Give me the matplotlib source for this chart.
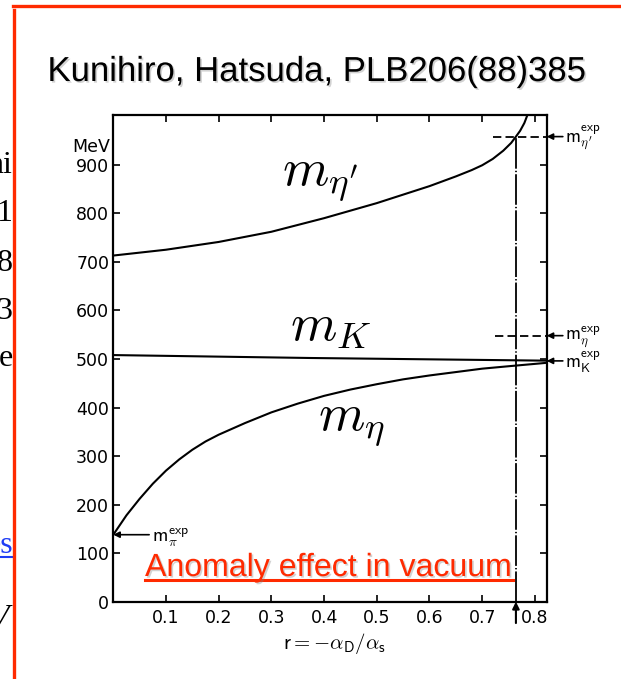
import matplotlib
matplotlib.use("Agg")
import matplotlib.pyplot as plt
import matplotlib.patheffects as pe
from matplotlib.lines import Line2D

# ---- data -------------------------------------------------------------
r_eta_prime = [0.0, 0.1, 0.2, 0.3, 0.4, 0.5, 0.6, 0.65, 0.68, 0.7, 0.72, 0.74,
               0.755, 0.764, 0.772, 0.78, 0.786]
m_eta_prime = [713, 725, 741, 762, 790, 821, 856, 876, 889, 899, 912, 929,
               945, 958, 970, 986, 1003]

r_kaon = [0.0, 0.373, 0.822]
m_kaon = [508, 502, 496.5]

r_eta = [0.0, 0.025, 0.05, 0.075, 0.1, 0.125, 0.15, 0.175, 0.2, 0.25, 0.3, 0.35,
         0.4, 0.45, 0.5, 0.55, 0.6, 0.65, 0.7, 0.75, 0.822]
m_eta = [138, 178, 212, 243, 270, 293, 313, 330, 344, 368, 390, 408,
         424, 437, 448, 458, 466, 473, 480, 485, 492]

m_pi_exp = 138
m_eta_exp = 548
m_eta_prime_exp = 958
m_kaon_exp = 496
r_best = 0.764

x_ticks = [0.1, 0.2, 0.3, 0.4, 0.5, 0.6, 0.7, 0.8]
x_tick_labels = ["0.1", "0.2", "0.3", "0.4", "0.5", "0.6", "0.7", "0.8"]
y_ticks = [0, 100, 200, 300, 400, 500, 600, 700, 800, 900]
y_tick_labels = [str(v) for v in y_ticks]

title_text = "Kunihiro, Hatsuda, PLB206(88)385"
note_text = "Anomaly effect in vacuum"

# ---- figure -----------------------------------------------------------
W, H = 621, 679
plt.rcParams["mathtext.fontset"] = "cm"
plt.rcParams["lines.scale_dashes"] = False
fig = plt.figure(figsize=(W / 100, H / 100), dpi=100)
fig.patch.set_facecolor("white")


def fx(px):
    return px / W


def fy(py):
    return 1 - py / H


RED = "#ff2a00"

# slide frame
fig.add_artist(Line2D([fx(13), fx(621)], [fy(5.5), fy(5.5)], color=RED, lw=2.4))
fig.add_artist(Line2D([fx(14), fx(14)], [fy(10), fy(679)], color=RED, lw=2.4))

# clipped text from the neighbouring slide column
frag = fig.add_axes([0, 0, fx(12.5), 1])
frag.set_xlim(0, 12.5)
frag.set_ylim(H, 0)
frag.axis("off")
serif = dict(family="Liberation Serif", fontsize=23, color="black", clip_on=True)
for txt, xr, yb in [("hi", 12.5, 173), ("1", 12.5, 221), ("8", 12.5, 271),
                    ("3", 12.5, 319), ("e", 12.5, 366)]:
    frag.text(xr, yb, txt, ha="right", va="baseline", **serif)
frag.text(13.5, 553, "es", ha="right", va="baseline", family="Liberation Serif",
          fontsize=23, color="#1f3df5", clip_on=True)
frag.plot([0, 12.5], [557, 557], color="#1f3df5", lw=1.5, clip_on=True)
frag.text(9, 626, "V", ha="right", va="baseline", family="Liberation Serif",
          style="italic", fontsize=23, color="black", clip_on=True)

shadow = [pe.SimplePatchShadow(offset=(1.2, -1.2), shadow_rgbFace="0.5", alpha=0.35),
          pe.Normal()]

fig.text(fx(317), fy(81), title_text, ha="center", va="baseline",
         family="Liberation Sans", fontsize=25, color="black", path_effects=shadow)

# ---- axes -------------------------------------------------------------
x0, x1 = 113.3, 546.7
y_top, y_bot = 115.0, 601.7
ax = fig.add_axes([fx(x0), fy(y_bot), (x1 - x0) / W, (y_bot - y_top) / H])
ax.set_xlim(0, 0.8224)
ax.set_ylim(0, 1002.5)

lw = 1.5
ax.plot(r_eta_prime, m_eta_prime, color="black", lw=lw, solid_joinstyle="round")
ax.plot(r_kaon, m_kaon, color="black", lw=lw)
ax.plot(r_eta, m_eta, color="black", lw=lw, solid_joinstyle="round")

# best-fit r marker
ax.plot([r_best, r_best], [0, m_eta_prime_exp], color="black", lw=1.3,
        dashes=(22, 1.5, 1, 1.5))
ax.annotate("", xy=(r_best, 0), xytext=(r_best, -44), annotation_clip=False,
            arrowprops=dict(arrowstyle="-|>", color="black", lw=1.5,
                            mutation_scale=10, shrinkA=0, shrinkB=0))

# experimental masses
ax.plot([0.72, 0.8224], [m_eta_prime_exp] * 2, color="black", lw=1.3, dashes=(6, 3))
ax.plot([0.724, 0.8224], [m_eta_exp] * 2, color="black", lw=1.3, dashes=(6, 3))

arrow_kw = dict(arrowstyle="-|>", color="black", lw=1.2, mutation_scale=9,
                shrinkA=0, shrinkB=0)
right_labels = [
    (m_eta_prime_exp, 947, r"$\mathsf{m}_{\eta^{\prime}}^{\mathsf{exp}}$"),
    (m_eta_exp, 538, r"$\mathsf{m}_{\eta}^{\mathsf{exp}}$"),
    (m_kaon_exp, 480, r"$\mathsf{m}_{\mathsf{K}}^{\mathsf{exp}}$"),
]
for yv, yb, lab in right_labels:
    ax.annotate("", xy=(0.8224, yv), xytext=(0.853, yv), annotation_clip=False,
                arrowprops=arrow_kw)
    ax.text(0.858, yb, lab, ha="left", va="baseline", fontsize=13.5, clip_on=False)

ax.annotate("", xy=(0, m_pi_exp), xytext=(0.068, m_pi_exp), annotation_clip=False,
            arrowprops=arrow_kw)
ax.text(0.073, 123, r"$\mathsf{m}_{\pi}^{\mathsf{exp}}$", ha="left", va="baseline",
        fontsize=14)

# curve labels
ax.text(0.32, 858, r"$m_{\eta^{\prime}}$", fontsize=38, ha="left", va="baseline")
ax.text(0.335, 539, r"$m_{K}$", fontsize=38, ha="left", va="baseline")
ax.text(0.389, 354, r"$m_{\eta}$", fontsize=38, ha="left", va="baseline")

# ticks and frame
ax.set_xticks(x_ticks)
ax.set_xticklabels(x_tick_labels)
ax.set_yticks(y_ticks)
ax.set_yticklabels(y_tick_labels)
ax.tick_params(direction="in", top=True, right=True, length=5, width=1.2,
               labelsize=12.5, pad=3)
ax.tick_params(axis="x", pad=5)
for lab in ax.get_xticklabels() + ax.get_yticklabels():
    lab.set_family("DejaVu Sans")
for s in ax.spines.values():
    s.set_linewidth(1.6)

fig.text(fx(110), fy(152), "MeV", ha="right", va="baseline", family="DejaVu Sans",
         fontsize=12.5)
fig.text(fx(334), fy(649), r"$\mathsf{r} = -\alpha_{\mathsf{D}}/\alpha_{\mathsf{s}}$",
         ha="center", va="baseline", fontsize=15)

# red note with underline
note = fig.text(fx(145), fy(576), note_text, ha="left", va="baseline",
                family="Liberation Sans", fontsize=23.1, color=RED, path_effects=shadow)
fig.canvas.draw()
bb = note.get_window_extent()
fig.add_artist(Line2D([bb.x0 / W, bb.x1 / W], [fy(579.5), fy(579.5)], color=RED, lw=2.2))

fig.savefig("out.png", dpi=100)
